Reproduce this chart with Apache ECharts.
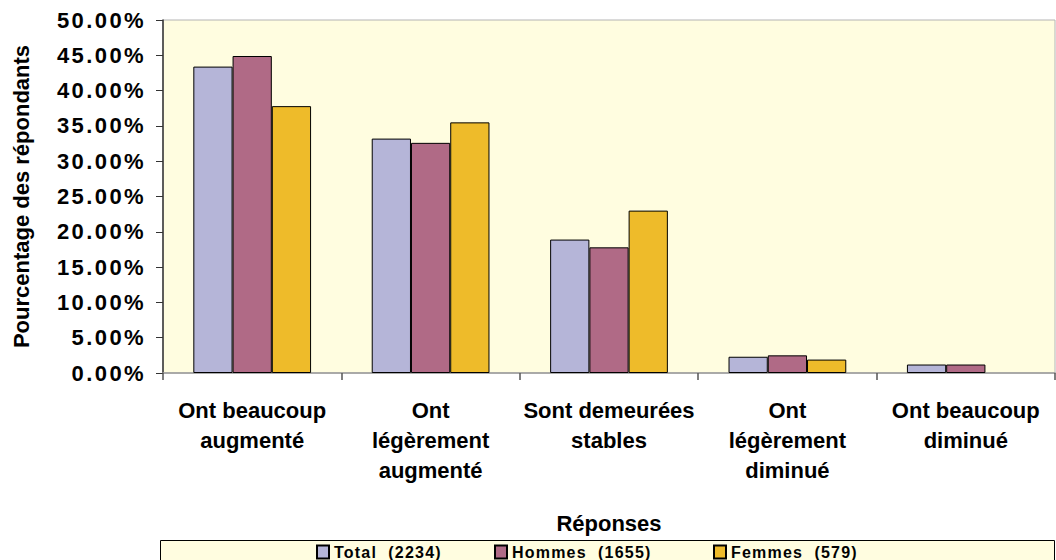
<!DOCTYPE html>
<html>
<head>
<meta charset="utf-8">
<style>
  html, body { margin: 0; padding: 0; background: #ffffff; }
  #chart { width: 1056px; height: 560px; }
  #chart text { white-space: pre; }
  /* spaced-out lettering for the value ticks and the legend entries */
  #chart text[fill="#010101"] { letter-spacing: 2.4px; }
  #chart text[fill="#020202"] { letter-spacing: 1.2px; }
</style>
<script src="https://cdn.jsdelivr.net/npm/echarts@6/dist/echarts.min.js"></script>
</head>
<body>
<div id="chart"></div>
<script>
// Survey answers (percentage of respondents) by group
const categories = [
  'Ont beaucoup\naugmenté',
  'Ont\nlégèrement\naugmenté',
  'Sont demeurées\nstables',
  'Ont\nlégèrement\ndiminué',
  'Ont beaucoup\ndiminué'
];
const seriesNames = ['Total  (2234)', 'Hommes  (1655)', 'Femmes  (579)'];
const totalValues = [43.4, 33.2, 18.9, 2.3, 1.2];
const hommesValues = [44.9, 32.6, 17.8, 2.5, 1.2];
const femmesValues = [37.8, 35.5, 23.0, 1.9, 0];
const yTicks = { min: 0, max: 50, step: 5 };

const FONT = "'Liberation Sans', Arial, Helvetica, sans-serif";
const PLOT_BG = '#FFFDE0';
const colors = ['#B5B5D8', '#B06A86', '#EEBB2A'];

const chart = echarts.init(document.getElementById('chart'), null, { renderer: 'svg' });

const valueSets = [totalValues, hommesValues, femmesValues];
const series = seriesNames.map((name, i) => ({
  name: name,
  type: 'bar',
  // a zero value has no height, so it gets no outline either
  data: valueSets[i].map(v => (v === 0 ? { value: v, itemStyle: { borderWidth: 0 } } : v)),
  barGap: '0%',
  barCategoryGap: '34%',
  itemStyle: { color: colors[i], borderColor: '#000000', borderWidth: 1 },
  emphasis: { disabled: true }
}));

const legendLefts = [316, 494, 713];
const legends = seriesNames.map((name, i) => ({
  data: [name],
  left: legendLefts[i],
  top: 544,
  padding: 0,
  icon: 'rect',
  itemWidth: 12,
  itemHeight: 13,
  selectedMode: false,
  textStyle: { fontFamily: FONT, fontWeight: 'bold', fontSize: 16, color: '#020202' }
}));

chart.setOption({
  animation: false,
  backgroundColor: '#ffffff',
  color: colors,
  graphic: [{
    type: 'rect',
    z: -1,
    shape: { x: 160.5, y: 540.5, width: 894, height: 40 },
    style: { fill: PLOT_BG, stroke: '#000000', lineWidth: 1 }
  }],
  grid: {
    left: 163, right: 1, top: 20, bottom: 187,
    show: true,
    backgroundColor: PLOT_BG,
    borderColor: '#b4b4b4',
    borderWidth: 1
  },
  legend: legends,
  xAxis: {
    type: 'category',
    data: categories,
    boundaryGap: true,
    name: 'Réponses',
    nameLocation: 'middle',
    nameGap: 139,
    nameTextStyle: { fontFamily: FONT, fontWeight: 'bold', fontSize: 22, color: '#000' },
    axisLine: { show: true, lineStyle: { color: '#9a9a9a', width: 1.5 } },
    axisTick: { show: true, interval: 0, length: 7, lineStyle: { color: '#555', width: 1.5 } },
    axisLabel: {
      interval: 0,
      margin: 22,
      fontFamily: FONT, fontWeight: 'bold', fontSize: 22, lineHeight: 30, color: '#000'
    },
    splitLine: { show: false }
  },
  yAxis: {
    type: 'value',
    min: yTicks.min,
    max: yTicks.max,
    interval: yTicks.step,
    name: 'Pourcentage des répondants',
    nameLocation: 'middle',
    nameRotate: 90,
    nameGap: 131,
    nameTextStyle: { fontFamily: FONT, fontWeight: 'bold', fontSize: 22, color: '#000' },
    axisLine: { show: true, lineStyle: { color: '#333', width: 1.5 } },
    axisTick: { show: true, length: 7, lineStyle: { color: '#333', width: 1 } },
    axisLabel: {
      margin: 17,
      fontFamily: FONT, fontWeight: 'bold', fontSize: 22, color: '#010101',
      formatter: v => v.toFixed(2) + '%'
    },
    splitLine: {
      show: true,
      showMinLine: false,
      showMaxLine: false,
      lineStyle: { color: '#1e1e1e', width: 1, shadowColor: 'rgba(0,0,0,0.45)', shadowOffsetY: 1.5, shadowBlur: 0 }
    }
  },
  series: series
});
</script>
</body>
</html>
